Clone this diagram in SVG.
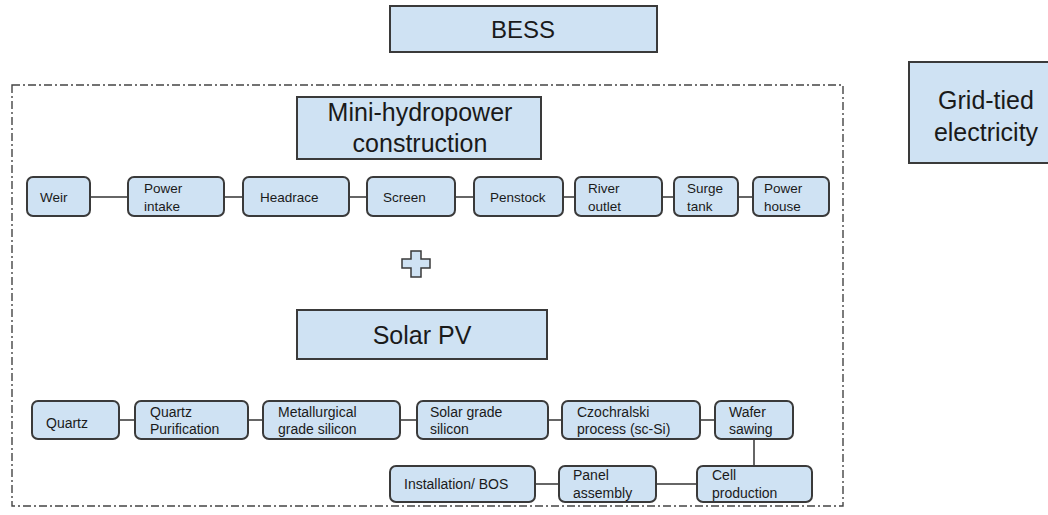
<svg xmlns="http://www.w3.org/2000/svg" width="1048" height="515" viewBox="0 0 1048 515">
<style>
.box{fill:#cfe2f3;stroke:#3a3a3a;stroke-width:2}
.big{fill:#cfe2f3;stroke:#3a3a3a;stroke-width:2}
.t{font-family:"Liberation Sans",Arial,sans-serif;fill:#1a1a1a}
.s{font-size:13.5px}
.m{font-size:14px}
.l{font-size:25px;text-anchor:middle}
.c{stroke:#333;stroke-width:1.5;fill:none}
</style>
<rect width="1048" height="515" fill="#fff"/>
<rect id="frame" x="12" y="85" width="831" height="421" fill="none" stroke="#444" stroke-width="1.4" stroke-dasharray="8 3 2 3"/>
<g id="connectors">
<line class="c" x1="90" y1="197" x2="128" y2="197"/>
<line class="c" x1="224" y1="197" x2="243" y2="197"/>
<line class="c" x1="349" y1="197" x2="367" y2="197"/>
<line class="c" x1="455" y1="197" x2="474" y2="197"/>
<line class="c" x1="563" y1="197" x2="575" y2="197"/>
<line class="c" x1="662" y1="197" x2="674" y2="197"/>
<line class="c" x1="738" y1="197" x2="753" y2="197"/>
<line class="c" x1="119" y1="420" x2="135" y2="420"/>
<line class="c" x1="248" y1="420" x2="263" y2="420"/>
<line class="c" x1="400" y1="420" x2="417" y2="420"/>
<line class="c" x1="548" y1="420" x2="562" y2="420"/>
<line class="c" x1="700" y1="420" x2="715" y2="420"/>
<line class="c" x1="754" y1="439" x2="754" y2="466"/>
<line class="c" x1="535" y1="484" x2="559" y2="484"/>
<line class="c" x1="656" y1="484" x2="697" y2="484"/>
</g>
<g id="bess"><rect class="big" x="390" y="6" width="267" height="46"/><text class="t" x="523" y="38" style="font-size:24px;text-anchor:middle">BESS</text></g>
<g id="grid"><rect class="big" x="909" y="62" width="154" height="101"/><text class="t l" x="986" y="109">Grid-tied</text><text class="t l" x="986" y="141">electricity</text></g>
<g id="hydro"><rect class="big" x="297" y="97" width="244" height="62"/><text class="t l" x="420" y="121">Mini-hydropower</text><text class="t l" x="420" y="152">construction</text></g>
<g id="plus"><path d="M411,251 H421 V259 H430 V268 H421 V277 H411 V268 H402 V259 H411 Z" fill="#cfe2f3" stroke="#3a3a3a" stroke-width="1.5"/></g>
<g id="solar"><rect class="big" x="297" y="310" width="250" height="49"/><text class="t l" x="422" y="344">Solar PV</text></g>
<g id="weir"><rect class="box" x="27" y="177" width="63" height="39" rx="6"/><text class="t s" x="40" y="202">Weir</text></g>
<g id="intake"><rect class="box" x="128" y="177" width="96" height="39" rx="6"/><text class="t s" x="144" y="193">Power</text><text class="t s" x="144" y="211">intake</text></g>
<g id="headrace"><rect class="box" x="243" y="177" width="106" height="39" rx="6"/><text class="t s" x="260" y="202">Headrace</text></g>
<g id="screen"><rect class="box" x="367" y="177" width="88" height="39" rx="6"/><text class="t s" x="383" y="202">Screen</text></g>
<g id="penstock"><rect class="box" x="474" y="177" width="89" height="39" rx="6"/><text class="t s" x="490" y="202">Penstock</text></g>
<g id="outlet"><rect class="box" x="575" y="177" width="87" height="39" rx="6"/><text class="t s" x="588" y="193">River</text><text class="t s" x="588" y="211">outlet</text></g>
<g id="surge"><rect class="box" x="674" y="177" width="64" height="39" rx="6"/><text class="t s" x="687" y="193">Surge</text><text class="t s" x="687" y="211">tank</text></g>
<g id="powerhouse"><rect class="box" x="753" y="177" width="76" height="39" rx="6"/><text class="t s" x="764" y="193">Power</text><text class="t s" x="764" y="211">house</text></g>
<g id="quartz"><rect class="box" x="32" y="401" width="87" height="38" rx="6"/><text class="t m" x="46" y="428">Quartz</text></g>
<g id="purif"><rect class="box" x="135" y="401" width="113" height="38" rx="6"/><text class="t m" x="150" y="417">Quartz</text><text class="t m" x="150" y="434">Purification</text></g>
<g id="mgsi"><rect class="box" x="263" y="401" width="137" height="38" rx="6"/><text class="t m" x="278" y="417">Metallurgical</text><text class="t m" x="278" y="434">grade silicon</text></g>
<g id="sgsi"><rect class="box" x="417" y="401" width="131" height="38" rx="6"/><text class="t m" x="430" y="417">Solar grade</text><text class="t m" x="430" y="434">silicon</text></g>
<g id="cz"><rect class="box" x="562" y="401" width="138" height="38" rx="6"/><text class="t m" x="577" y="417">Czochralski</text><text class="t m" x="577" y="434">process (sc-Si)</text></g>
<g id="wafer"><rect class="box" x="715" y="401" width="78" height="38" rx="6"/><text class="t m" x="729" y="417">Wafer</text><text class="t m" x="729" y="434">sawing</text></g>
<g id="install"><rect class="box" x="390" y="466" width="145" height="36" rx="6"/><text class="t m" x="404" y="489">Installation/ BOS</text></g>
<g id="panel"><rect class="box" x="559" y="466" width="97" height="36" rx="6"/><text class="t m" x="573" y="480">Panel</text><text class="t m" x="573" y="498">assembly</text></g>
<g id="cell"><rect class="box" x="697" y="466" width="115" height="36" rx="6"/><text class="t m" x="712" y="480">Cell</text><text class="t m" x="712" y="498">production</text></g>
</svg>
